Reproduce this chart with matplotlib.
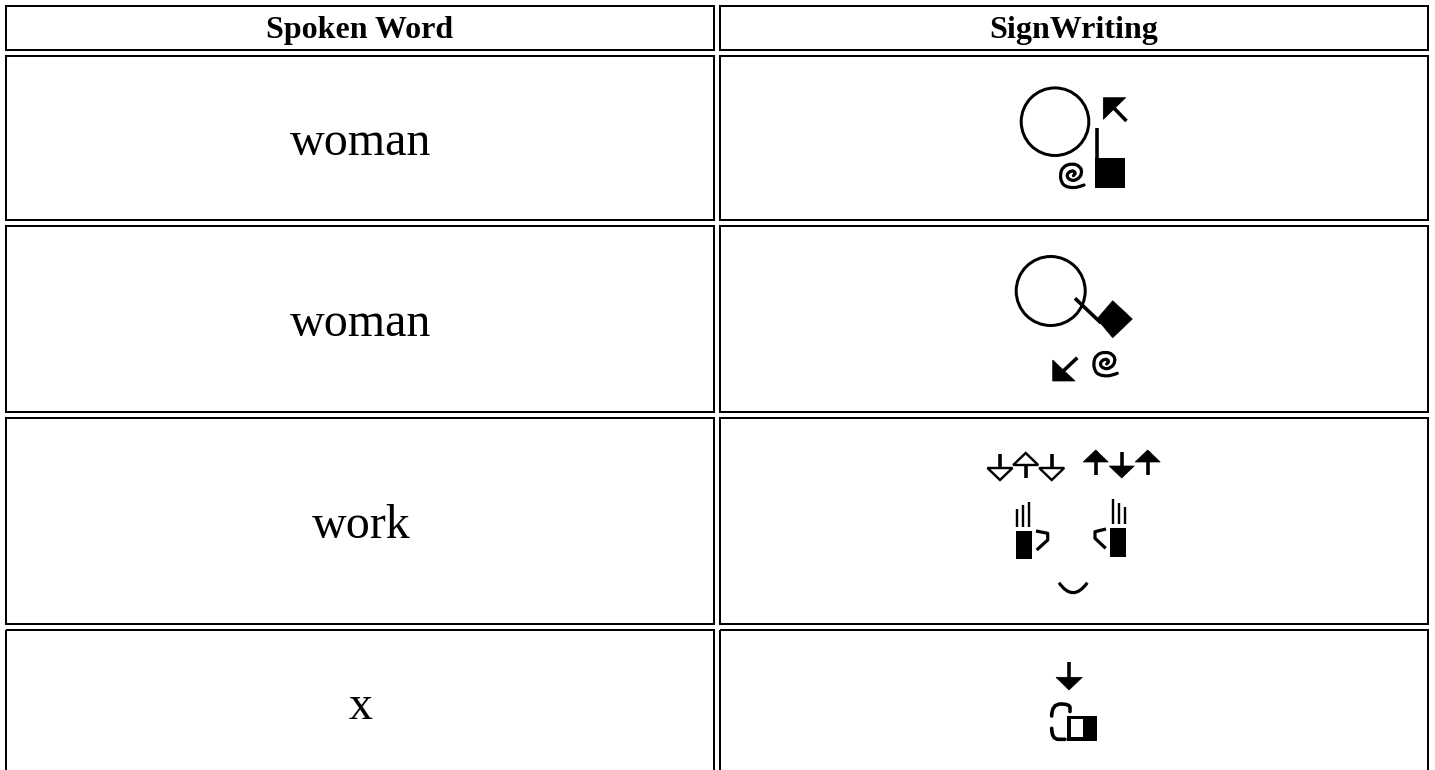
import matplotlib
matplotlib.use("Agg")
import matplotlib.pyplot as plt
from matplotlib.patches import Circle, Polygon, Rectangle, PathPatch
from matplotlib.path import Path

plt.rcParams["font.family"] = ["Liberation Serif", "DejaVu Serif"]

headers = ["Spoken Word", "SignWriting"]
words = ["woman", "woman", "work", "x"]

# table layout in image pixels, y going down
col_edges = [(6, 714), (720, 1428)]
row_edges = [(6, 50), (56, 220), (226, 412), (418, 624), (630, 800)]
header_base = 38
word_base = [155, 335.5, 538, 719]
col_mid = [360, 1074]
word_mid = 361

# spiral outline, offset from its centre
spiral = [(12.3, 10), (6, 12.4), (0, 12.7), (-6, 11.5), (-10, 8), (-11.7, 0), (-9, -8.3), (0, -11.7),
          (8.3, -9), (10.7, -1.7), (5.7, 5), (-1.7, 5.7), (-5.7, 0), (0, -5), (4.3, -2.3), (1.7, 0.7)]


def line(ax, pts, lw=3.6, cap="butt"):
    xs, ys = zip(*pts)
    ax.plot(xs, ys, color="black", lw=lw * 0.72, solid_capstyle=cap, solid_joinstyle="round")


def smooth(ax, pts, lw=3.2):
    """ quadratic curve through the midpoints of pts """
    verts = [pts[0]]
    codes = [Path.MOVETO]
    for a, b in zip(pts[1:-1], pts[2:]):
        verts += [a, ((a[0] + b[0]) / 2, (a[1] + b[1]) / 2)]
        codes += [Path.CURVE3, Path.CURVE3]
    verts += [pts[-1]]
    codes += [Path.LINETO]
    ax.add_patch(PathPatch(Path(verts, codes), fc="none", ec="black", lw=lw * 0.72, capstyle="round"))


def draw_spiral(ax, cx, cy):
    smooth(ax, [(cx + dx, cy + dy) for dx, dy in spiral])


def head(ax, cx, cy, r):
    ax.add_patch(Circle((cx, cy), r, fc="none", ec="black", lw=3 * 0.72))


def tri(ax, pts, filled=True):
    ax.add_patch(Polygon(pts, closed=True, fc="black" if filled else "white", ec="black", lw=2.4 * 0.72 if not filled else 0.5, zorder=3))


def box(ax, x0, y0, x1, y1):
    ax.add_patch(Rectangle((x0, y0), x1 - x0, y1 - y0, fc="black", ec="none"))


def small_arrow(ax, x, up, filled, base):
    """ vertical arrow in the row 3 movement strip """
    if up:
        line(ax, [(x, base + 3), (x, base + 27)])
        tri(ax, [(x - 12.5, base + 14), (x + 12.5, base + 14), (x, base + 2)], filled)
    else:
        line(ax, [(x, base + 3), (x, base + 18)])
        tri(ax, [(x - 12.5, base + 17), (x + 12.5, base + 17), (x, base + 29)], filled)


def draw_row1(ax):
    head(ax, 1055, 121.7, 33.8)
    tri(ax, [(1103.3, 97.7), (1125.7, 97.7), (1103.3, 119.3)])
    line(ax, [(1108, 102), (1126.5, 121)])
    line(ax, [(1097, 127.7), (1097, 158)])
    box(ax, 1095, 157.7, 1125, 187.7)
    draw_spiral(ax, 1071.7, 175)


def draw_row2(ax):
    head(ax, 1050.7, 291, 34.5)
    line(ax, [(1075, 298.3), (1101, 323)])
    tri(ax, [(1097, 319), (1112.7, 300.7), (1132.3, 319), (1112.7, 337.7)])
    draw_spiral(ax, 1105, 363.3)
    tri(ax, [(1052.7, 360), (1075, 381), (1052.7, 381)])
    line(ax, [(1057, 377), (1077.3, 357.7)])


def draw_row3(ax):
    small_arrow(ax, 1000, False, False, 451)
    small_arrow(ax, 1025.7, True, False, 451)
    small_arrow(ax, 1051.7, False, False, 451)
    small_arrow(ax, 1095.7, True, True, 448)
    small_arrow(ax, 1121.7, False, True, 449)
    small_arrow(ax, 1147.7, True, True, 448)
    # left hand
    box(ax, 1016, 530.7, 1032.3, 559.3)
    line(ax, [(1016.7, 526.7), (1016.7, 509.3)], lw=2.4)
    line(ax, [(1022.7, 526.7), (1022.7, 505)], lw=2.4)
    line(ax, [(1029, 526.7), (1029, 501.7)], lw=2.4)
    line(ax, [(1036, 531), (1047.7, 533.3), (1047.7, 540), (1036.7, 550)], lw=3.2)
    # right hand
    box(ax, 1110, 528.3, 1126, 557.3)
    line(ax, [(1112.7, 524.3), (1112.7, 499.3)], lw=2.4)
    line(ax, [(1118.7, 524.3), (1118.7, 503.3)], lw=2.4)
    line(ax, [(1125, 524.3), (1125, 507.3)], lw=2.4)
    line(ax, [(1106, 529), (1095, 531.7), (1095, 538.3), (1105.7, 548.3)], lw=3.2)
    # mouth
    verts = [(1059, 582.7), (1073, 602.7), (1087.3, 582.7)]
    ax.add_patch(PathPatch(Path(verts, [Path.MOVETO, Path.CURVE3, Path.CURVE3]), fc="none", ec="black", lw=3.2 * 0.72))


def draw_row4(ax):
    line(ax, [(1069, 661.7), (1069, 680)])
    tri(ax, [(1056, 677.3), (1082.3, 677.3), (1069, 690)])
    smooth(ax, [(1051.7, 716), (1051.7, 704), (1070, 704), (1070, 711.5)], lw=3.6)
    smooth(ax, [(1051.7, 728.3), (1051.7, 739.3), (1065, 739.3)], lw=3.6)
    box(ax, 1067.3, 716, 1097.3, 741)
    ax.add_patch(Rectangle((1070.7, 719.3), 12, 18, fc="white", ec="none", zorder=3))


fig = plt.figure(figsize=(14.35, 7.7), dpi=100)
ax = fig.add_axes([0, 0, 1, 1])
ax.set(xlim=(0, 1435), ylim=(770, 0))
ax.axis("off")

for x0, x1 in col_edges:
    for y0, y1 in row_edges:
        ax.add_patch(Rectangle((x0, y0), x1 - x0, y1 - y0, fc="none", ec="black", lw=2 * 0.72))

for m, h in zip(col_mid, headers):
    ax.text(m, header_base, h, ha="center", va="baseline", fontsize=23, fontweight="bold")

for w, b in zip(words, word_base):
    ax.text(word_mid, b, w, ha="center", va="baseline", fontsize=34.56)

draw_row1(ax)
draw_row2(ax)
draw_row3(ax)
draw_row4(ax)

fig.savefig("out.png", dpi=100)
